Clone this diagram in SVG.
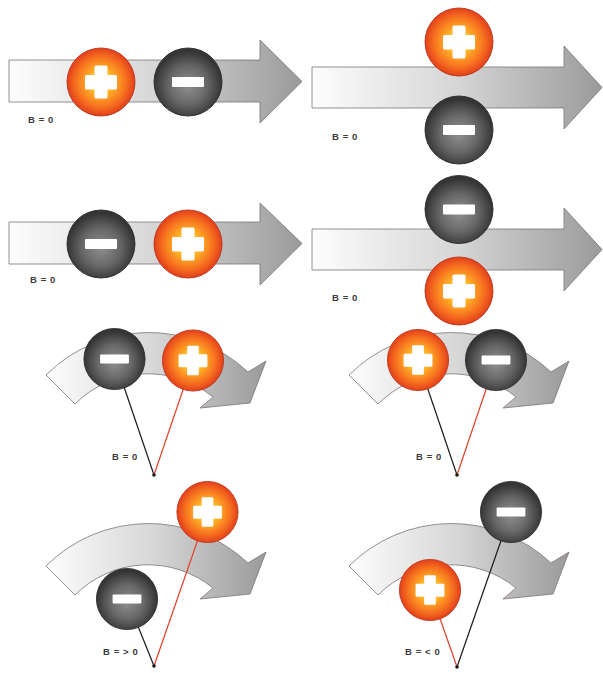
<svg xmlns="http://www.w3.org/2000/svg" xmlns:xlink="http://www.w3.org/1999/xlink" width="603" height="673" viewBox="0 0 603 673">
<style>
.arrow{fill:url(#arrowGrad);stroke:#7d7470;stroke-width:0.8;stroke-linejoin:miter}
.lbl{font-family:"Liberation Sans",Arial,sans-serif;font-weight:bold;font-size:9.5px;fill:#3a3a3a;letter-spacing:0.6px}
.str-black{stroke:#1a1a1a;stroke-width:1.2;fill:none}
.str-red{stroke:#e2402a;stroke-width:1.2;fill:none}
.pivot{fill:#1a1a1a}
</style>
<defs>
<linearGradient id="arrowGrad" x1="0" y1="0" x2="1" y2="0">
<stop offset="0" stop-color="#fdfdfd"/>
<stop offset="0.5" stop-color="#d6d6d6"/>
<stop offset="1" stop-color="#9a9a9a"/>
</linearGradient>
<radialGradient id="plusGrad" cx="0.5" cy="0.5" r="0.5">
<stop offset="0" stop-color="#ffe24a"/>
<stop offset="0.35" stop-color="#ffb526"/>
<stop offset="0.75" stop-color="#f66e1f"/>
<stop offset="1" stop-color="#e2401b"/>
</radialGradient>
<radialGradient id="minusGrad" cx="0.5" cy="0.55" r="0.5">
<stop offset="0" stop-color="#909090"/>
<stop offset="0.55" stop-color="#686868"/>
<stop offset="1" stop-color="#353535"/>
</radialGradient>
<g id="plusBall">
<circle r="34" fill="url(#plusGrad)" stroke="#b8321a" stroke-width="0.9"/>
<rect x="-16" y="-7" width="32" height="14.5" rx="1.5" fill="#fff"/>
<rect x="-6.5" y="-16.5" width="13" height="33" rx="1.5" fill="#fff"/>
</g>
<g id="minusBall">
<circle r="34" fill="url(#minusGrad)" stroke="#2a2a2a" stroke-width="0.9"/>
<rect x="-16" y="-5" width="32" height="10" rx="1" fill="#fff"/>
</g>
<path id="curve" class="arrow" d="M 46 375 A 145 145 0 0 1 248 372 L 266 361 L 250 403 L 200 408 L 213 397 A 103 103 0 0 0 75 404 Z"/>
</defs>

<g id="arrows">
<path id="arrow1" class="arrow" d="M 9 60 H 260 V 40 L 302 81.5 L 260 123 V 102 H 9 Z"/>
<path id="arrow2" class="arrow" d="M 312 67 H 564 V 46 L 602 87.5 L 564 129 V 108 H 312 Z"/>
<path id="arrow3" class="arrow" d="M 9 222 H 260 V 203 L 302 243.5 L 260 285 V 264 H 9 Z"/>
<path id="arrow4" class="arrow" d="M 312 229 H 564 V 208 L 602 249.5 L 564 291 V 270 H 312 Z"/>
<use id="arrow5" xlink:href="#curve" href="#curve"/>
<use id="arrow6" xlink:href="#curve" href="#curve" transform="translate(303,0)"/>
<use id="arrow7" xlink:href="#curve" href="#curve" transform="translate(0,191)"/>
<use id="arrow8" xlink:href="#curve" href="#curve" transform="translate(303,191)"/>
</g>

<g id="connectors">
<line class="str-black" x1="154" y1="475" x2="114.5" y2="359"/>
<line class="str-red" x1="154" y1="475" x2="193" y2="360.5"/>
<line class="str-black" x1="457" y1="475" x2="418" y2="360"/>
<line class="str-red" x1="457" y1="475" x2="496" y2="360"/>
<line class="str-red" x1="154" y1="666" x2="207.5" y2="512"/>
<line class="str-black" x1="154" y1="666" x2="127" y2="599"/>
<line class="str-black" x1="457" y1="667" x2="511" y2="512"/>
<line class="str-red" x1="457" y1="667" x2="430" y2="590"/>
<circle class="pivot" cx="154" cy="475" r="1.8"/>
<circle class="pivot" cx="457" cy="475" r="1.8"/>
<circle class="pivot" cx="154" cy="666" r="1.8"/>
<circle class="pivot" cx="457" cy="667" r="1.8"/>
</g>

<g id="panel1">
<use id="p1-plus" href="#plusBall" xlink:href="#plusBall" transform="translate(101,82)"/>
<use id="p1-minus" href="#minusBall" xlink:href="#minusBall" transform="translate(188,82)"/>
<text class="lbl" x="28" y="123">B = 0</text>
</g>
<g id="panel2">
<use id="p2-plus" href="#plusBall" xlink:href="#plusBall" transform="translate(459,42)"/>
<use id="p2-minus" href="#minusBall" xlink:href="#minusBall" transform="translate(459,130)"/>
<text class="lbl" x="332" y="140">B = 0</text>
</g>
<g id="panel3">
<use id="p3-minus" href="#minusBall" xlink:href="#minusBall" transform="translate(101,244)"/>
<use id="p3-plus" href="#plusBall" xlink:href="#plusBall" transform="translate(188,244)"/>
<text class="lbl" x="30" y="283">B = 0</text>
</g>
<g id="panel4">
<use id="p4-minus" href="#minusBall" xlink:href="#minusBall" transform="translate(459,209.5)"/>
<use id="p4-plus" href="#plusBall" xlink:href="#plusBall" transform="translate(459,291)"/>
<text class="lbl" x="332" y="301">B = 0</text>
</g>
<g id="panel5">
<use id="p5-minus" href="#minusBall" xlink:href="#minusBall" transform="translate(114.5,359) scale(0.9)"/>
<use id="p5-plus" href="#plusBall" xlink:href="#plusBall" transform="translate(193,360.5) scale(0.9)"/>
<text class="lbl" x="112" y="460">B = 0</text>
</g>
<g id="panel6">
<use id="p6-plus" href="#plusBall" xlink:href="#plusBall" transform="translate(418,360) scale(0.9)"/>
<use id="p6-minus" href="#minusBall" xlink:href="#minusBall" transform="translate(496,360) scale(0.9)"/>
<text class="lbl" x="416" y="460">B = 0</text>
</g>
<g id="panel7">
<use id="p7-plus" href="#plusBall" xlink:href="#plusBall" transform="translate(207.5,512) scale(0.9)"/>
<use id="p7-minus" href="#minusBall" xlink:href="#minusBall" transform="translate(127,599) scale(0.9)"/>
<text class="lbl" x="103" y="655">B = &gt; 0</text>
</g>
<g id="panel8">
<use id="p8-minus" href="#minusBall" xlink:href="#minusBall" transform="translate(511,512) scale(0.9)"/>
<use id="p8-plus" href="#plusBall" xlink:href="#plusBall" transform="translate(430,590) scale(0.9)"/>
<text class="lbl" x="405" y="655">B = &lt; 0</text>
</g>
</svg>
